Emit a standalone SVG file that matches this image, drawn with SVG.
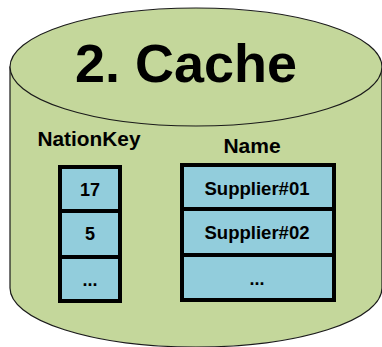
<svg xmlns="http://www.w3.org/2000/svg" width="382" height="347" viewBox="0 0 382 347">
<style>
.cyl{fill:#C4D79B;stroke:#1a1a1a;stroke-width:1.2}
.cell{fill:#92CDDC;stroke:#000;stroke-width:4}
text{font-family:"Liberation Sans",Arial,sans-serif;font-weight:bold;fill:#000;text-anchor:middle}
.t{font-size:54px}
.h{font-size:21px}
.c{font-size:18px}
</style>
<g id="cache">
<path class="cyl" d="M10,67 L10,288 A186,59 0 0 0 382,288 L382,67 Z"/>
<ellipse class="cyl" cx="196" cy="67" rx="186" ry="59"/>
<text class="t" x="186" y="82" textLength="222" lengthAdjust="spacingAndGlyphs">2. Cache</text>
</g>
<g id="nationkey">
<text class="h" x="89" y="146" textLength="103" lengthAdjust="spacingAndGlyphs">NationKey</text>
<rect class="cell" x="60" y="167" width="60" height="44"/>
<rect class="cell" x="60" y="211" width="60" height="46"/>
<rect class="cell" x="60" y="257" width="60" height="44"/>
<text class="c" x="90" y="196">17</text>
<text class="c" x="90" y="240">5</text>
<text class="c" x="90" y="286">...</text>
</g>
<g id="name">
<text class="h" x="252" y="153">Name</text>
<rect class="cell" x="182" y="165" width="152" height="44"/>
<rect class="cell" x="182" y="209" width="152" height="46"/>
<rect class="cell" x="182" y="255" width="152" height="45"/>
<text class="c" x="257" y="195" textLength="105" lengthAdjust="spacingAndGlyphs">Supplier#01</text>
<text class="c" x="257" y="239" textLength="105" lengthAdjust="spacingAndGlyphs">Supplier#02</text>
<text class="c" x="257" y="285">...</text>
</g>
<g id="connectors"/>
</svg>
